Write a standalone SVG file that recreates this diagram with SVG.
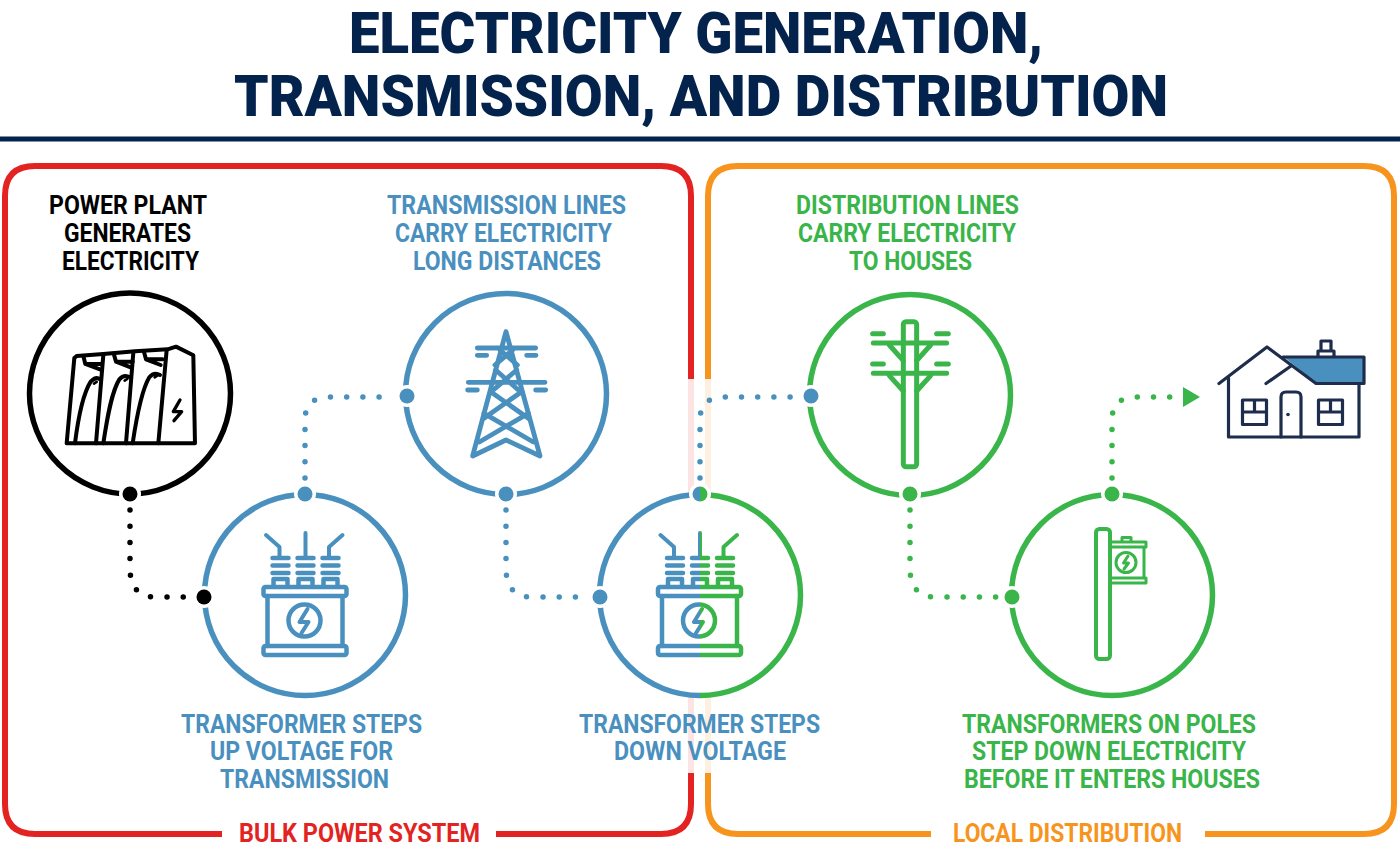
<svg xmlns="http://www.w3.org/2000/svg" width="1400" height="851" viewBox="0 0 1400 851">
<style>
text{font-family:"Roboto","Liberation Sans",sans-serif;font-weight:700;font-size:25px}
.ti{font-size:56.5px;font-weight:900;fill:#03224c}
.b{fill:#4a90bf}.g{fill:#39b54a}.k{fill:#000}.r{fill:#e32222}.o{fill:#f7941d}
.ring{fill:#fff;stroke-width:5.5}
.sb{stroke:#4a90bf}.sg{stroke:#39b54a}.sk{stroke:#000}
.ic{fill:none;stroke-linecap:round;stroke-linejoin:round}
.dot{fill:none;stroke-width:5.5;stroke-linecap:round;stroke-dasharray:0 16.2}
.halo{fill:#fff}
</style>
<defs>
<clipPath id="lh"><rect x="590" y="480" width="110" height="230"/></clipPath>
<clipPath id="rh"><rect x="700" y="480" width="110" height="230"/></clipPath>
<g id="xf" class="ic" stroke-width="4.5">
<rect x="658" y="587" width="83" height="9" rx="2"/>
<rect x="658" y="646" width="83" height="9" rx="2"/>
<path d="M662 596V646M737 596V646"/>
<circle cx="699" cy="620.5" r="16"/>
<path d="M702 609L694 622H703L696 633" stroke-width="4"/>
<path d="M667 558H683M667 565.5H683M667 573H683M692 558H708M692 565.5H708M692 573H708M717 558H733M717 565.5H733M717 573H733"/>
<path d="M668 586V579H682V586M693 586V579H707V586M718 586V579H732V586"/>
<path d="M660.500 535L674 547V558M700 533V558M737 535L723.500 547V558" stroke-width="4"/>
</g>
</defs>
<g id="header">
<text class="ti" x="349" y="52.500" textLength="694" lengthAdjust="spacingAndGlyphs">ELECTRICITY GENERATION,</text>
<text class="ti" x="234" y="116" textLength="934" lengthAdjust="spacingAndGlyphs">TRANSMISSION, AND DISTRIBUTION</text>
<rect x="0" y="136.500" width="1400" height="5" fill="#03224c"/>
</g>
<g id="bulk-frame" fill="none" stroke-width="6">
<path d="M222 834H35Q5 834 5 804V196Q5 166 35 166H661Q691 166 691 196V379" stroke="#e32222"/>
<path d="M691 379V773" stroke="#fde4e4"/>
<path d="M691 773V804Q691 834 661 834H496" stroke="#e32222"/>
<text class="r" x="239" y="842" stroke="none" textLength="241" lengthAdjust="spacingAndGlyphs">BULK POWER SYSTEM</text>
</g>
<g id="local-frame" fill="none" stroke-width="6">
<path d="M708 379V196Q708 166 738 166H1364Q1394 166 1394 196V804Q1394 834 1364 834H1205" stroke="#f7941d"/>
<path d="M708 379V773" stroke="#fef0e0"/>
<path d="M708 773V804Q708 834 738 834H931" stroke="#f7941d"/>
<text class="o" x="953" y="842" stroke="none" textLength="229" lengthAdjust="spacingAndGlyphs">LOCAL DISTRIBUTION</text>
</g>
<g id="connectors">
<path class="dot sk" d="M130 510V568Q130 597 156 597H190"/>
<path class="dot sb" d="M305 478V420Q305 397 330 397H392"/>
<path class="dot sb" d="M506 510V568Q506 597 532 597H590"/>
<path class="dot sb" d="M700 478V420Q700 397 724 397H795"/>
<path class="dot sg" d="M910 510V568Q910 597 936 597H996"/>
<path class="dot sg" d="M1112 478V420Q1112 397 1136 397H1171"/>
<path d="M1183 387L1200 397L1183 407Z" fill="#39b54a"/>
</g>
<g id="power-plant">
<circle class="ring sk" cx="130" cy="393.500" r="100.500"/>
<g class="ic sk" stroke-width="12" transform="translate(20 280) scale(.3333)">
<path d="M140 490H525L520 226L468 200L443 208L345 214L250 222L170 228L163 234Z"/>
<path d="M228 490L250 225M318 490L340 218M415 490L440 210"/>
<path d="M190 228L196 252L240 268M196 252H246M282 224L288 245L332 262M288 245H338M372 216L378 238L422 255M378 238H428"/>
<path d="M165 490C175 410 190 340 212 305Q228 288 240 298M250 490C262 410 275 335 298 298Q312 282 330 292M338 490C350 410 365 330 388 292Q402 275 420 285"/>
<path d="M222 311L230 306M314 302L322 297M404 292L412 287" stroke-width="8"/>
<path d="M480 360L460 395H485L462 422" stroke-width="10"/>
</g>
<circle class="halo" cx="130" cy="494" r="11"/><circle class="k" cx="130" cy="494" r="7.500"/>
<text class="k" x="49" y="214" textLength="158" lengthAdjust="spacingAndGlyphs">POWER PLANT</text>
<text class="k" x="64" y="242" textLength="127" lengthAdjust="spacingAndGlyphs">GENERATES</text>
<text class="k" x="62" y="270" textLength="137" lengthAdjust="spacingAndGlyphs">ELECTRICITY</text>
</g>
<g id="transformer-up">
<circle class="ring sb" cx="305" cy="595" r="100.500"/>
<use href="#xf" x="-394.500" class="sb"/>
<circle class="halo" cx="204" cy="597" r="11"/><circle class="k" cx="204" cy="597" r="7.500"/>
<circle class="halo" cx="305" cy="494" r="11"/><circle class="b" cx="305" cy="494" r="7.500"/>
<text class="b" x="181" y="733" textLength="241" lengthAdjust="spacingAndGlyphs">TRANSFORMER STEPS</text>
<text class="b" x="210" y="760" textLength="183" lengthAdjust="spacingAndGlyphs">UP VOLTAGE FOR</text>
<text class="b" x="220" y="788" textLength="169" lengthAdjust="spacingAndGlyphs">TRANSMISSION</text>
</g>
<g id="transmission-tower">
<circle class="ring sb" cx="506" cy="394" r="100.500"/>
<g class="ic sb" stroke-width="14.500" transform="translate(400 290) scale(.3333)">
<path d="M318 125L218 498L318 450L420 498Z"/>
<path d="M232 174H407M232 196H260M380 196H408M205 277H435M203 300H232M407 300H437"/>
<path d="M300 180L352 225M338 180L285 225M287 240L355 300M350 240L280 300M272 305L385 385M365 305L252 385M385 370L238 456M252 370L400 456"/>
</g>
<circle class="halo" cx="407" cy="396" r="11"/><circle class="b" cx="407" cy="396" r="7.500"/>
<circle class="halo" cx="506" cy="494" r="11"/><circle class="b" cx="506" cy="494" r="7.500"/>
<text class="b" x="387" y="214" textLength="239" lengthAdjust="spacingAndGlyphs">TRANSMISSION LINES</text>
<text class="b" x="395" y="242" textLength="217" lengthAdjust="spacingAndGlyphs">CARRY ELECTRICITY</text>
<text class="b" x="413" y="270" textLength="188" lengthAdjust="spacingAndGlyphs">LONG DISTANCES</text>
</g>
<g id="transformer-down">
<circle cx="700" cy="595" r="100.500" fill="#fff"/>
<circle class="ring sb" cx="700" cy="595" r="100.500" clip-path="url(#lh)"/>
<circle class="ring sg" cx="700" cy="595" r="100.500" clip-path="url(#rh)"/>
<use href="#xf" class="sb" clip-path="url(#lh)"/>
<use href="#xf" class="sg" clip-path="url(#rh)"/>
<circle class="halo" cx="600" cy="597" r="11"/><circle class="b" cx="600" cy="597" r="7.500"/>
<circle class="halo" cx="700" cy="494" r="11"/>
<circle class="b" cx="700" cy="494" r="7.500" clip-path="url(#lh)"/>
<circle class="g" cx="700" cy="494" r="7.500" clip-path="url(#rh)"/>
<text class="b" x="579" y="733" textLength="241" lengthAdjust="spacingAndGlyphs">TRANSFORMER STEPS</text>
<text class="b" x="614" y="760" textLength="172" lengthAdjust="spacingAndGlyphs">DOWN VOLTAGE</text>
</g>
<g id="distribution-pole">
<circle class="ring sg" cx="910" cy="395" r="100.500"/>
<g class="ic sg" stroke-width="15" transform="translate(800 290) scale(.3333)">
<rect x="310" y="95" width="40" height="435" rx="8"/>
<path d="M220 159H440M220 250H440M218 131H250M410 131H445M218 222H250M410 222H445"/>
<path d="M268 165L310 212M392 165L350 212M268 257L310 303M392 257L350 303"/>
</g>
<circle class="halo" cx="811" cy="396" r="11"/><circle class="b" cx="811" cy="396" r="7.500"/>
<circle class="halo" cx="910" cy="494" r="11"/><circle class="g" cx="910" cy="494" r="7.500"/>
<text class="g" x="796" y="214" textLength="223" lengthAdjust="spacingAndGlyphs">DISTRIBUTION LINES</text>
<text class="g" x="798" y="242" textLength="218" lengthAdjust="spacingAndGlyphs">CARRY ELECTRICITY</text>
<text class="g" x="849" y="270" textLength="123" lengthAdjust="spacingAndGlyphs">TO HOUSES</text>
</g>
<g id="pole-transformer">
<circle class="ring sg" cx="1112" cy="595" r="100.500"/>
<g class="ic sg" stroke-width="4">
<rect x="1096" y="529" width="14" height="130" rx="3.500"/>
<path d="M1110 542H1146V547H1110M1110 578H1146V583H1110M1144 547V578M1122 541V537.500H1131V541" stroke-width="3"/>
<circle cx="1126" cy="562.500" r="10" stroke-width="3"/>
<path d="M1128 556L1123.500 563H1128.500L1124 569" stroke-width="3"/>
</g>
<circle class="halo" cx="1012" cy="597" r="11"/><circle class="g" cx="1012" cy="597" r="7.500"/>
<circle class="halo" cx="1112" cy="494" r="11"/><circle class="g" cx="1112" cy="494" r="7.500"/>
<text class="g" x="962" y="733" textLength="294" lengthAdjust="spacingAndGlyphs">TRANSFORMERS ON POLES</text>
<text class="g" x="972" y="760" textLength="274" lengthAdjust="spacingAndGlyphs">STEP DOWN ELECTRICITY</text>
<text class="g" x="964" y="788" textLength="296" lengthAdjust="spacingAndGlyphs">BEFORE IT ENTERS HOUSES</text>
</g>
<g id="house">
<path d="M1284 357H1364V383H1316Z" fill="#4a90bf"/>
<g fill="none" stroke="#1f2d4d" stroke-width="3.200" stroke-linecap="round" stroke-linejoin="round">
<path d="M1219 383.500L1267 347L1316 383.500H1364V357H1283"/>
<path d="M1266 383.500L1291 366M1228.500 378V437H1359V384"/>
<path d="M1318 356V351H1334V356M1321 350V341H1331V350"/>
<path d="M1281 437V397Q1281 392 1286 392H1296Q1301 392 1301 397V437"/>
<path d="M1242.500 400H1266.500V424.500H1242.500ZM1242.500 412H1266.500M1254.500 400V412M1318.500 400H1342.500V424.500H1318.500ZM1318.500 412H1342.500M1330.500 400V412"/>
</g>
<circle cx="1288" cy="414.500" r="1.800" fill="#1f2d4d"/>
</g>
</svg>
